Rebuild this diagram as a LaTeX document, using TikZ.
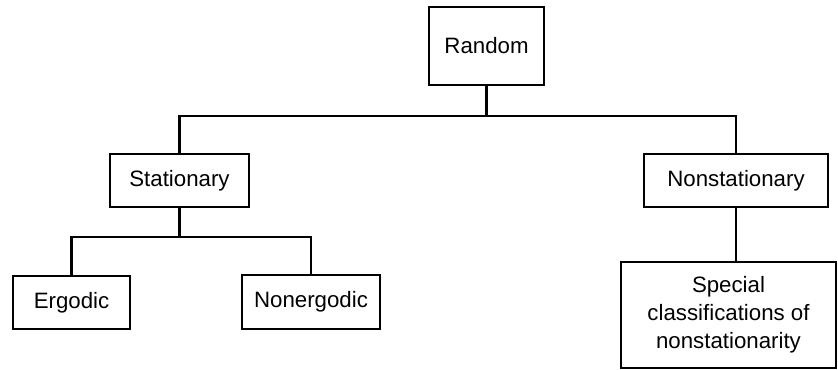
\documentclass[tikz,border=0pt]{standalone}
\usepackage{fontspec}
\setmainfont{Liberation Sans}
\usepackage{tikz}

\begin{document}
\begin{tikzpicture}[x=0.03cm, y=-0.03cm,
  box/.style={draw, line width=1.4pt, inner sep=0pt, align=center,
    font=\fontsize{19}{24}\selectfont, minimum height=1.59cm},
  link/.style={line width=1.9pt}]
\useasboundingbox (0,0) rectangle (838,370);
% Boxes
\node[box, minimum width=3.45cm, minimum height=2.34cm] (random) at (486.5,46) {Random};
\node[box, minimum width=4.17cm] (stat) at (179.5,180.5) {Stationary};
\node[box, minimum width=5.52cm] (nonstat) at (736,180.5) {Nonstationary};
\node[box, minimum width=3.51cm] (ergodic) at (71.5,302.5) {Ergodic};
\node[box, minimum width=4.14cm, minimum height=1.62cm] (nonergodic) at (311,302) {Nonergodic};
\node[box, minimum width=6.45cm, minimum height=3.18cm] (special) at (728.5,315)
  {Special\\classifications of\\nonstationarity};
% Branch points
\coordinate (top) at (486.5,116);
\coordinate (mid) at (179.5,237);
% Connectors
\draw[link] (random) -- (top);
\draw[link] (stat.north) |- (top) -| (nonstat.north);
\draw[link] (stat) -- (mid);
\draw[link] (ergodic.north) |- (mid) -| (nonergodic.north);
\draw[link] (nonstat) -- (nonstat |- special.north);
\end{tikzpicture}
\end{document}
